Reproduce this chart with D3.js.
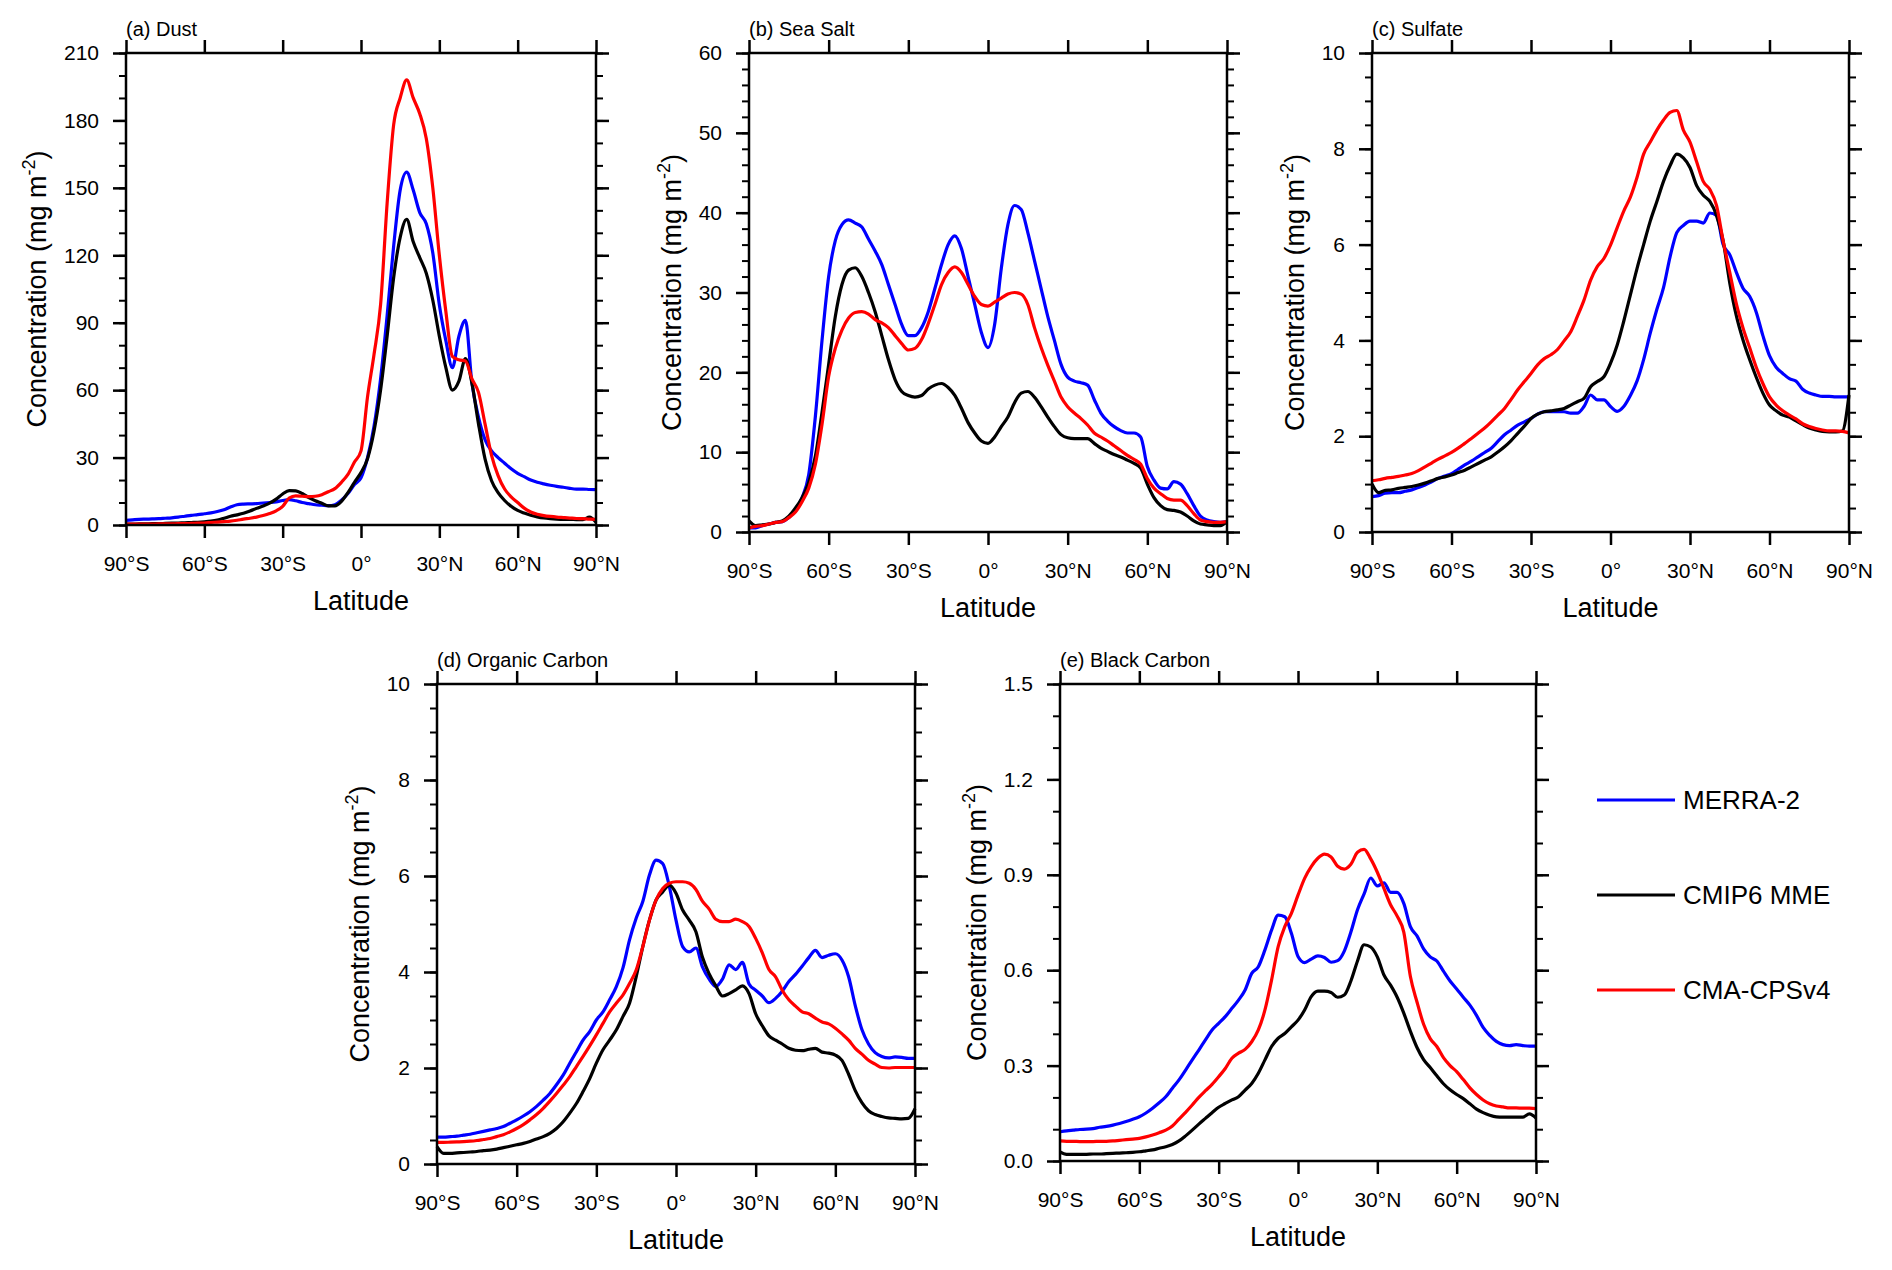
<!DOCTYPE html>
<html>
<head>
<meta charset="utf-8">
<script src="https://cdn.jsdelivr.net/npm/d3@7"></script>
<style>
  body { margin: 0; background: #fff; }
  svg text { font-family: "Liberation Sans", Arial, Helvetica, sans-serif; fill: #000; }
</style>
</head>
<body>
<svg id="fig" width="1892" height="1270"></svg>
<script>
// latitude grid (2.5 deg), shared by every series
const lat = [-90, -87.5, -85, -82.5, -80, -77.5, -75, -72.5, -70, -67.5, -65, -62.5,
  -60, -57.5, -55, -52.5, -50, -47.5, -45, -42.5, -40, -37.5, -35, -32.5,
  -30, -27.5, -25, -22.5, -20, -17.5, -15, -12.5, -10, -7.5, -5, -2.5,
  0, 2.5, 5, 7.5, 10, 12.5, 15, 17.5, 20, 22.5, 25, 27.5,
  30, 32.5, 35, 37.5, 40, 42.5, 45, 47.5, 50, 52.5, 55, 57.5,
  60, 62.5, 65, 67.5, 70, 72.5, 75, 77.5, 80, 82.5, 85, 87.5,
  90];

// (a) Dust
const dustMerra = [2.1, 2.3, 2.5, 2.6, 2.7, 2.8, 3.0, 3.2, 3.5, 3.9, 4.3, 4.6,
  5.0, 5.4, 6.0, 6.8, 8.0, 9.0, 9.3, 9.4, 9.5, 9.8, 10.0, 10.3,
  10.9, 11.3, 10.8, 10.0, 9.5, 9.0, 8.8, 8.6, 9.0, 11.0, 14.0, 18.0,
  21, 30, 44, 65, 93, 124, 149, 157, 149, 139, 134, 121,
  98, 82, 70, 84, 91, 63, 48, 38, 33, 30, 27.5, 25,
  23, 21.5, 20, 19, 18.3, 17.7, 17.2, 16.8, 16.3, 16.0, 16.0, 15.8,
  15.7];
const dustCmip = [0.4, 0.4, 0.5, 0.5, 0.6, 0.6, 0.7, 0.8, 0.9, 1.0, 1.1, 1.2,
  1.4, 1.7, 2.2, 3.0, 3.9, 4.5, 5.2, 6.2, 7.4, 8.5, 9.7, 11.5,
  13.8, 15.3, 15.2, 14.0, 12.2, 10.8, 9.7, 8.5, 8.5, 10.5, 14.4, 19.0,
  23.3, 29.5, 41.8, 60, 84, 110, 128, 136, 126, 119, 112, 100,
  84, 70, 60, 64, 74, 63, 45, 29.4, 19.7, 14.4, 10.9, 8.3,
  6.5, 5.3, 4.3, 3.6, 3.1, 2.8, 2.6, 2.5, 2.5, 2.4, 2.4, 3.5,
  1.2];
const dustCma = [0.4, 0.4, 0.4, 0.4, 0.4, 0.5, 0.5, 0.5, 0.6, 0.6, 0.7, 0.8,
  0.9, 1.1, 1.3, 1.5, 1.7, 2.1, 2.6, 3.0, 3.5, 4.2, 5.1, 6.3,
  8.3, 12.0, 13.0, 12.8, 12.6, 12.8, 13.5, 14.8, 16.2, 19.0, 22.5, 28.0,
  33, 57, 76, 98, 143, 178, 190, 198, 190, 183, 172, 150,
  120, 95, 75, 73.5, 73, 65, 59, 45, 31, 22, 16, 12.5,
  10, 7.5, 5.8, 4.8, 4.2, 3.8, 3.5, 3.3, 3.1, 2.9, 2.8, 2.6,
  2.5];

// (b) Sea Salt
const saltMerra = [0.5, 0.5, 0.8, 1.0, 1.2, 1.3, 1.8, 2.8, 4.3, 7.2, 14.5, 24,
  32, 36.5, 38.5, 39.1, 38.7, 38.2, 36.7, 35.2, 33.5, 31, 28.5, 26,
  24.6, 24.6, 25.6, 27.6, 30.5, 33.5, 36, 37.1, 35.5, 32, 28.5, 25,
  23.1, 26, 33, 38.5, 40.9, 40.4, 37.5, 34, 30.5, 27, 24, 21,
  19.4, 18.9, 18.7, 18.4, 16.6, 14.9, 13.9, 13.2, 12.7, 12.4, 12.4, 11.9,
  8.2, 6.5, 5.5, 5.4, 6.3, 6.0, 4.8, 3.3, 2.0, 1.5, 1.3, 1.2,
  1.3];
const saltCmip = [1.4, 0.8, 0.9, 1.0, 1.2, 1.4, 2.0, 3.0, 4.3, 6.2, 9.5, 15,
  21, 27, 31, 32.8, 33.1, 32, 30, 27.6, 24.6, 21.6, 19.1, 17.6,
  17.1, 16.9, 17.1, 17.9, 18.4, 18.6, 18.1, 17.1, 15.5, 13.7, 12.4, 11.4,
  11.1, 11.9, 13.2, 14.4, 16.2, 17.4, 17.6, 16.9, 15.7, 14.4, 13.2, 12.2,
  11.8, 11.7, 11.7, 11.7, 11.1, 10.5, 10.1, 9.7, 9.4, 9.0, 8.6, 8.0,
  6.0, 4.3, 3.3, 2.8, 2.7, 2.5, 2.0, 1.4, 1.0, 0.9, 0.8, 0.8,
  1.3];
const saltCma = [0.5, 0.7, 0.8, 1.0, 1.2, 1.3, 1.8, 2.5, 3.8, 5.5, 8.5, 13.5,
  19.5, 23, 25.3, 26.8, 27.5, 27.6, 27.3, 26.6, 26.2, 25.6, 24.6, 23.6,
  22.8, 23, 24.1, 26.1, 28.5, 31, 32.5, 33.2, 32.5, 31, 29.5, 28.5,
  28.3, 28.8, 29.3, 29.8, 30, 29.8, 28.5, 25.6, 23.1, 20.9, 18.9, 16.9,
  15.7, 14.9, 14.2, 13.4, 12.4, 11.9, 11.4, 10.8, 10.2, 9.6, 9.1, 8.5,
  6.7, 5.5, 4.8, 4.2, 4.0, 4.0, 3.3, 2.3, 1.5, 1.3, 1.2, 1.2,
  1.3];

// (c) Sulfate
const sulfMerra = [0.74, 0.76, 0.81, 0.82, 0.82, 0.85, 0.88, 0.93, 0.98, 1.05, 1.12, 1.17,
  1.22, 1.31, 1.40, 1.48, 1.57, 1.66, 1.75, 1.89, 2.03, 2.13, 2.23, 2.30,
  2.37, 2.46, 2.51, 2.51, 2.51, 2.51, 2.48, 2.48, 2.62, 2.86, 2.76, 2.76,
  2.62, 2.52, 2.62, 2.85, 3.15, 3.6, 4.15, 4.65, 5.1, 5.75, 6.25, 6.4,
  6.49, 6.49, 6.45, 6.66, 6.61, 6.0, 5.79, 5.42, 5.09, 4.92, 4.59, 4.10,
  3.68, 3.44, 3.31, 3.20, 3.15, 2.98, 2.90, 2.86, 2.83, 2.83, 2.82, 2.82,
  2.82];
const sulfCmip = [1.0, 0.82, 0.87, 0.88, 0.91, 0.93, 0.95, 0.98, 1.02, 1.07, 1.12, 1.15,
  1.19, 1.24, 1.29, 1.36, 1.43, 1.50, 1.57, 1.67, 1.78, 1.91, 2.06, 2.21,
  2.37, 2.46, 2.51, 2.53, 2.55, 2.58, 2.65, 2.72, 2.79, 3.03, 3.14, 3.24,
  3.52, 3.9, 4.4, 4.95, 5.5, 6.0, 6.49, 6.90, 7.32, 7.65, 7.89, 7.81,
  7.61, 7.23, 7.03, 6.9, 6.61, 6.08, 5.2, 4.51, 4.01, 3.60, 3.23, 2.90,
  2.65, 2.53, 2.44, 2.40, 2.32, 2.24, 2.17, 2.13, 2.10, 2.09, 2.09, 2.11,
  2.86];
const sulfCma = [1.07, 1.09, 1.12, 1.14, 1.16, 1.19, 1.22, 1.28, 1.36, 1.44, 1.52, 1.59,
  1.66, 1.75, 1.85, 1.95, 2.06, 2.17, 2.30, 2.44, 2.58, 2.77, 2.97, 3.14,
  3.31, 3.49, 3.62, 3.70, 3.81, 3.99, 4.18, 4.5, 4.84, 5.26, 5.54, 5.71,
  5.99, 6.35, 6.7, 6.99, 7.40, 7.89, 8.14, 8.39, 8.60, 8.76, 8.80, 8.39,
  8.14, 7.73, 7.32, 7.15, 6.82, 6.08, 5.42, 4.76, 4.26, 3.85, 3.44, 3.10,
  2.82, 2.65, 2.53, 2.44, 2.36, 2.26, 2.20, 2.16, 2.13, 2.11, 2.11, 2.10,
  2.07];

// (d) Organic Carbon
const ocMerra = [0.56, 0.56, 0.57, 0.58, 0.60, 0.62, 0.65, 0.68, 0.71, 0.74, 0.78, 0.85,
  0.92, 1.0, 1.09, 1.2, 1.33, 1.47, 1.65, 1.85, 2.10, 2.34, 2.58, 2.76,
  3.0, 3.17, 3.42, 3.69, 4.08, 4.67, 5.12, 5.47, 6.02, 6.33, 6.26, 5.78,
  5.08, 4.53, 4.42, 4.5, 4.1, 3.85, 3.7, 3.85, 4.15, 4.05, 4.2, 3.75,
  3.62, 3.5, 3.36, 3.45, 3.6, 3.8, 3.95, 4.12, 4.3, 4.45, 4.3, 4.35,
  4.38, 4.25, 3.9, 3.3, 2.8, 2.5, 2.32, 2.24, 2.21, 2.23, 2.22, 2.2,
  2.2];
const ocCmip = [0.36, 0.22, 0.22, 0.23, 0.24, 0.25, 0.26, 0.28, 0.29, 0.31, 0.34, 0.37,
  0.40, 0.43, 0.47, 0.52, 0.57, 0.64, 0.74, 0.88, 1.06, 1.26, 1.51, 1.78,
  2.10, 2.38, 2.58, 2.79, 3.07, 3.35, 3.90, 4.53, 5.08, 5.5, 5.67, 5.81,
  5.64, 5.29, 5.08, 4.84, 4.30, 3.96, 3.71, 3.50, 3.55, 3.63, 3.71, 3.55,
  3.13, 2.88, 2.67, 2.58, 2.50, 2.41, 2.37, 2.36, 2.39, 2.41, 2.33, 2.31,
  2.27, 2.16, 1.87, 1.53, 1.28, 1.11, 1.03, 0.99, 0.96, 0.95, 0.94, 0.95,
  1.15];
const ocCma = [0.45, 0.45, 0.455, 0.46, 0.465, 0.475, 0.49, 0.51, 0.53, 0.57, 0.61, 0.67,
  0.74, 0.82, 0.92, 1.03, 1.16, 1.31, 1.47, 1.64, 1.82, 2.03, 2.24, 2.46,
  2.69, 2.93, 3.17, 3.35, 3.52, 3.76, 4.04, 4.53, 5.08, 5.5, 5.74, 5.85,
  5.88, 5.88, 5.85, 5.72, 5.47, 5.31, 5.10, 5.05, 5.05, 5.10, 5.05, 4.95,
  4.7, 4.4, 4.05, 3.9, 3.62, 3.42, 3.29, 3.17, 3.13, 3.04, 2.96, 2.92,
  2.83, 2.71, 2.58, 2.41, 2.29, 2.16, 2.08, 2.01, 2.0, 2.01, 2.01, 2.01,
  2.01];

// (e) Black Carbon
const bcMerra = [0.092, 0.095, 0.097, 0.099, 0.100, 0.102, 0.106, 0.109, 0.113, 0.118, 0.124, 0.131,
  0.139, 0.151, 0.166, 0.183, 0.202, 0.229, 0.255, 0.286, 0.318, 0.349, 0.381, 0.412,
  0.433, 0.454, 0.480, 0.506, 0.538, 0.590, 0.611, 0.664, 0.726, 0.773, 0.768, 0.716,
  0.643, 0.624, 0.635, 0.645, 0.64, 0.625, 0.63, 0.66, 0.72, 0.79, 0.84, 0.89,
  0.865, 0.875, 0.845, 0.845, 0.81, 0.737, 0.708, 0.667, 0.642, 0.629, 0.597, 0.566,
  0.541, 0.515, 0.490, 0.458, 0.420, 0.395, 0.376, 0.366, 0.363, 0.366, 0.363, 0.361,
  0.361];
const bcCmip = [0.029, 0.021, 0.021, 0.021, 0.021, 0.022, 0.022, 0.023, 0.024, 0.025, 0.026, 0.027,
  0.029, 0.032, 0.035, 0.040, 0.045, 0.052, 0.063, 0.079, 0.097, 0.116, 0.134, 0.152,
  0.169, 0.181, 0.192, 0.202, 0.223, 0.244, 0.276, 0.318, 0.360, 0.386, 0.401, 0.422,
  0.443, 0.475, 0.517, 0.534, 0.534, 0.530, 0.515, 0.522, 0.566, 0.629, 0.680, 0.673,
  0.642, 0.585, 0.553, 0.515, 0.465, 0.408, 0.357, 0.319, 0.294, 0.268, 0.243, 0.224,
  0.209, 0.196, 0.180, 0.163, 0.152, 0.144, 0.139, 0.138, 0.138, 0.138, 0.138, 0.148,
  0.135];
const bcCma = [0.063, 0.062, 0.062, 0.061, 0.061, 0.061, 0.062, 0.062, 0.063, 0.065, 0.067, 0.069,
  0.071, 0.076, 0.082, 0.089, 0.097, 0.110, 0.132, 0.153, 0.176, 0.200, 0.221, 0.241,
  0.265, 0.291, 0.323, 0.339, 0.351, 0.375, 0.412, 0.475, 0.569, 0.674, 0.737, 0.779,
  0.836, 0.889, 0.926, 0.952, 0.965, 0.956, 0.927, 0.918, 0.933, 0.971, 0.980, 0.950,
  0.908, 0.857, 0.806, 0.77, 0.72, 0.58, 0.50, 0.43, 0.385, 0.36, 0.325, 0.300,
  0.281, 0.256, 0.230, 0.209, 0.192, 0.180, 0.173, 0.170, 0.167, 0.167, 0.166, 0.166,
  0.165];

const seriesNames = ['MERRA-2', 'CMIP6 MME', 'CMA-CPSv4'];
const seriesColors = ['#0000ff', '#000000', '#ff0000'];
const latTicks = [-90, -60, -30, 0, 30, 60, 90];
const latLabels = ['90°S', '60°S', '30°S', '0°', '30°N', '60°N', '90°N'];

const panels = [
  { title: '(a) Dust', yMax: 210, major: 30, minor: 10, fmt: d3.format('d'),
    box: { x: 126, y: 53, w: 470, h: 472 }, data: [dustMerra, dustCmip, dustCma] },
  { title: '(b) Sea Salt', yMax: 60, major: 10, minor: 2, fmt: d3.format('d'),
    box: { x: 749, y: 53, w: 478, h: 479 }, data: [saltMerra, saltCmip, saltCma] },
  { title: '(c) Sulfate', yMax: 10, major: 2, minor: 0.5, fmt: d3.format('d'),
    box: { x: 1372, y: 53, w: 477, h: 479 }, data: [sulfMerra, sulfCmip, sulfCma] },
  { title: '(d) Organic Carbon', yMax: 10, major: 2, minor: 0.5, fmt: d3.format('d'),
    box: { x: 437, y: 684, w: 478, h: 480 }, data: [ocMerra, ocCmip, ocCma] },
  { title: '(e) Black Carbon', yMax: 1.5, major: 0.3, minor: 0.1, fmt: d3.format('.1f'),
    box: { x: 1060, y: 684, w: 476, h: 477 }, data: [bcMerra, bcCmip, bcCma] }
];

const svg = d3.select('#fig');
const FONT = '"Liberation Sans", Arial, Helvetica, sans-serif';

function steps(max, step) {
  const n = Math.round(max / step);
  return d3.range(n + 1).map(i => +(i * step).toFixed(4));
}

function styleAxis(sel, width) {
  sel.select('.domain').remove();
  sel.selectAll('line').attr('stroke', '#000').attr('stroke-width', width);
  sel.attr('font-family', FONT).attr('font-size', 21);
}

panels.forEach(p => {
  const w = p.box.w, h = p.box.h;
  const g = svg.append('g').attr('transform', 'translate(' + p.box.x + ',' + p.box.y + ')');

  const x = d3.scaleLinear().domain([-90, 90]).range([0, w]);
  const y = d3.scaleLinear().domain([0, p.yMax]).range([h, 0]);

  const majorY = steps(p.yMax, p.major);
  const minorY = steps(p.yMax, p.minor);

  // minor ticks, left and right
  g.append('g').call(d3.axisLeft(y).tickValues(minorY).tickSize(7).tickFormat(''))
    .call(s => styleAxis(s, 2));
  g.append('g').attr('transform', 'translate(' + w + ',0)')
    .call(d3.axisRight(y).tickValues(minorY).tickSize(7).tickFormat(''))
    .call(s => styleAxis(s, 2));

  // major ticks
  const yAxis = g.append('g')
    .call(d3.axisLeft(y).tickValues(majorY).tickSize(13).tickPadding(14).tickFormat(p.fmt))
    .call(s => styleAxis(s, 2.5));
  g.append('g').attr('transform', 'translate(' + w + ',0)')
    .call(d3.axisRight(y).tickValues(majorY).tickSize(13).tickFormat(''))
    .call(s => styleAxis(s, 2.5));
  g.append('g').attr('transform', 'translate(0,' + h + ')')
    .call(d3.axisBottom(x).tickValues(latTicks).tickSize(13).tickPadding(18)
      .tickFormat((d, i) => latLabels[i]))
    .call(s => styleAxis(s, 2.5));
  g.append('g')
    .call(d3.axisTop(x).tickValues(latTicks).tickSize(13).tickFormat(''))
    .call(s => styleAxis(s, 2.5));

  // curves
  const line = d3.line()
    .x((d, i) => x(lat[i]))
    .y(d => y(d))
    .curve(d3.curveMonotoneX);

  p.data.forEach((vals, k) => {
    g.append('path')
      .datum(vals)
      .attr('d', line)
      .attr('fill', 'none')
      .attr('stroke', seriesColors[k])
      .attr('stroke-width', 3.2)
      .attr('stroke-linejoin', 'round');
  });

  // frame
  g.append('rect')
    .attr('width', w).attr('height', h)
    .attr('fill', 'none').attr('stroke', '#000').attr('stroke-width', 2.5);

  // title
  g.append('text')
    .attr('x', 0).attr('y', -17)
    .attr('font-size', 20)
    .text(p.title);

  // x axis title
  g.append('text')
    .attr('x', w / 2).attr('y', h + 85)
    .attr('text-anchor', 'middle')
    .attr('font-size', 27)
    .text('Latitude');

  // y axis title, placed just left of the tick labels
  const lb = yAxis.node().getBBox();
  const yt = g.append('text')
    .attr('transform', 'translate(' + (lb.x - 18) + ',' + (h / 2) + ') rotate(-90)')
    .attr('text-anchor', 'middle')
    .attr('font-size', 27);
  yt.append('tspan').text('Concentration (mg m');
  yt.append('tspan').attr('dy', -11).attr('font-size', 18).text('-2');
  yt.append('tspan').attr('dy', 11).text(')');
});

// legend
const legendY = [800, 895, 990];
const legend = svg.append('g');
seriesNames.forEach((name, k) => {
  legend.append('line')
    .attr('x1', 1597).attr('x2', 1675)
    .attr('y1', legendY[k]).attr('y2', legendY[k])
    .attr('stroke', seriesColors[k]).attr('stroke-width', 3.2);
  legend.append('text')
    .attr('x', 1683).attr('y', legendY[k])
    .attr('dy', '0.36em')
    .attr('font-size', 26)
    .text(name);
});
</script>
</body>
</html>
